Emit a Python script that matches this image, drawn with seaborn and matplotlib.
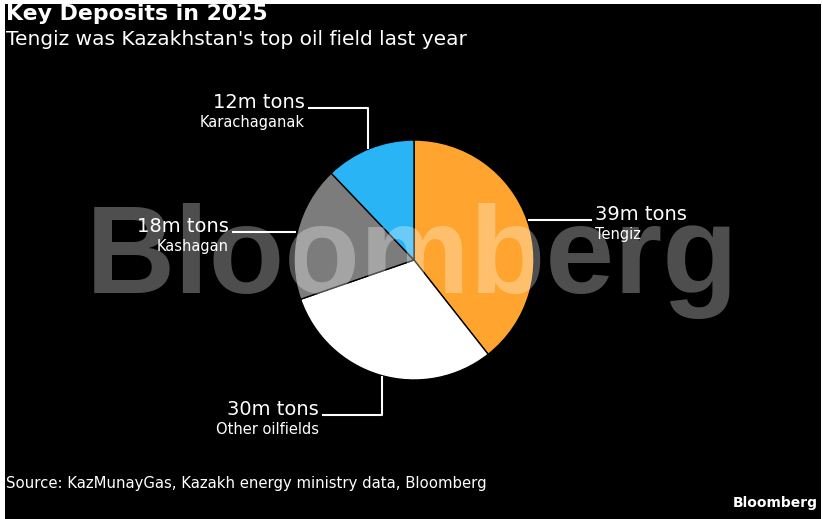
import matplotlib.pyplot as plt
import seaborn as sns

# -----------------------------
# DATA (million tons, 2025)
# -----------------------------
fields = ["Tengiz", "Other oilfields", "Kashagan", "Karachaganak"]
output_mt = [39, 30, 18, 12]
value_labels = ["39m tons", "30m tons", "18m tons", "12m tons"]
slice_colors = ["#FFA42E", "#FFFFFF", "#7C7C7C", "#29B5F5"]

title = "Key Deposits in 2025"
subtitle = "Tengiz was Kazakhstan's top oil field last year"
source = "Source: KazMunayGas, Kazakh energy ministry data, Bloomberg"

# -----------------------------
# LAYOUT (pixel coords, y from top)
# -----------------------------
W, H = 823, 519
cx, cy, r = 414, 260, 120

# leader line path + text anchor (x, baseline y, alignment) per field
leaders = {
    "Tengiz": ([(528, 220), (592, 220)], (595, 220, "left")),
    "Other oilfields": ([(382, 376), (382, 415), (322, 415)], (319, 415, "right")),
    "Kashagan": ([(296, 232), (232, 232)], (229, 232, "right")),
    "Karachaganak": ([(368, 149), (368, 108), (308, 108)], (305, 108, "right")),
}

sns.set_style("dark")
plt.rcParams["font.family"] = ["DejaVu Sans"]


def py(y):
    return H - y


fig = plt.figure(figsize=(W / 100, H / 100), dpi=100, facecolor="white")
ax = fig.add_axes([0, 0, 1, 1])

# black panel with thin white frame on the left/bottom/right
ax.add_patch(plt.Rectangle((5, 0), W - 7, H - 4, facecolor="black",
                           edgecolor="none", zorder=0))

ax.pie(output_mt, colors=slice_colors, startangle=90, counterclock=False,
       center=(cx, py(cy)), radius=r,
       wedgeprops=dict(edgecolor="black", linewidth=1))

# watermark (above the pie, under the labels)
ax.text(412, py(293), "Bloomberg", family="Liberation Sans", weight="bold",
        fontsize=89, color="white", alpha=0.31, ha="center", va="baseline",
        zorder=2.5)

# -----------------------------
# LEADERS + LABELS
# -----------------------------
for name, val in zip(fields, value_labels):
    pts, (tx, ty, ha) = leaders[name]
    ax.plot([p[0] for p in pts], [py(p[1]) for p in pts],
            color="white", lw=1.5, solid_capstyle="butt", zorder=3)
    ax.text(tx, py(ty), val, color="white", fontsize=14, ha=ha,
            va="baseline", zorder=4)
    ax.text(tx, py(ty + 19), name, color="white", fontsize=10.5, ha=ha,
            va="baseline", zorder=4)

# -----------------------------
# TITLES / FOOTER
# -----------------------------
ax.text(6, py(20), title, color="white", fontsize=15.8, weight="bold",
        va="baseline")
ax.text(6, py(45), subtitle, color="white", fontsize=14.5, va="baseline")
ax.text(6, py(488), source, color="white", fontsize=10.7, va="baseline")
ax.text(818, py(507), "Bloomberg", color="white", fontsize=10, weight="bold",
        ha="right", va="baseline")

ax.set_xlim(0, W)
ax.set_ylim(0, H)
ax.set_aspect("auto")
ax.axis("off")

plt.savefig("out.png", dpi=100, facecolor="white")
